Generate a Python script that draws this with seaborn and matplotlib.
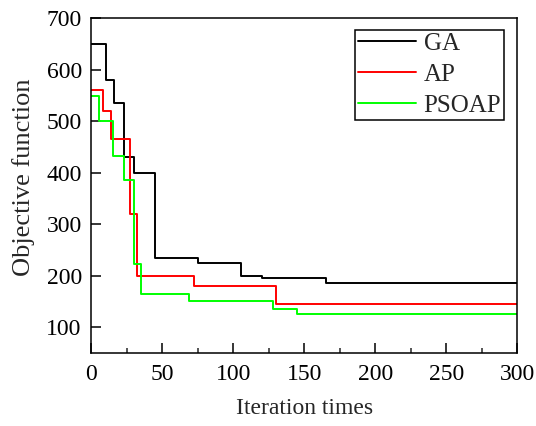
import numpy as np
import pandas as pd
import matplotlib
matplotlib.use("Agg")
import matplotlib.pyplot as plt
import seaborn as sns
from matplotlib.ticker import MultipleLocator

# step points (value holds until next x)
ga_x = [0, 10, 16, 23, 30, 45, 75, 105, 120, 165, 300]
ga_y = [650, 580, 535, 430, 400, 235, 225, 200, 195, 185, 185]
ap_x = [0, 8, 14, 27, 32, 72, 130, 300]
ap_y = [560, 520, 465, 320, 200, 180, 145, 145]
pso_x = [0, 5, 15, 23, 30, 35, 69, 128, 145, 300]
pso_y = [548, 500, 433, 385, 223, 165, 150, 135, 125, 125]

methods = ["GA", "AP", "PSOAP"]
colors = ["#000000", "#ff0000", "#00ff00"]

df = pd.concat([
    pd.DataFrame({"iter": ga_x, "obj": ga_y, "method": "GA"}),
    pd.DataFrame({"iter": ap_x, "obj": ap_y, "method": "AP"}),
    pd.DataFrame({"iter": pso_x, "obj": pso_y, "method": "PSOAP"}),
])

sns.set_style("ticks")
plt.rcParams["font.family"] = ["Liberation Serif", "DejaVu Serif"]

fig = plt.figure(figsize=(5.36, 4.26), dpi=100)
ax = fig.add_axes([0.1707, 0.1714, 0.7944, 0.7863])

sns.lineplot(data=df, x="iter", y="obj", hue="method", hue_order=methods,
             palette=colors, drawstyle="steps-post", linewidth=1.4,
             estimator=None, ax=ax)

ax.set_xlim(0, 300)
ax.set_ylim(50, 700)
ax.xaxis.set_major_locator(MultipleLocator(50))
ax.xaxis.set_minor_locator(MultipleLocator(25))
ax.set_yticks([100, 200, 300, 400, 500, 600, 700])
ax.tick_params(axis="both", which="major", direction="in", length=7, width=1.1,
               labelsize=17, colors="black")
ax.tick_params(axis="x", which="major", pad=8)
ax.tick_params(axis="y", which="major", pad=7)
ax.tick_params(axis="x", which="minor", direction="in", length=3.3, width=1.1)
ax.tick_params(axis="y", which="minor", left=False)
for s in ax.spines.values():
    s.set_visible(True)
    s.set_linewidth(1.1)
    s.set_color("black")

ax.set_xlabel("Iteration times", fontsize=17, labelpad=9)
ax.set_ylabel("Objective function", fontsize=19, labelpad=8, y=0.524)

leg = ax.legend(loc="upper right", bbox_to_anchor=(0.9695, 0.965), fontsize=18,
                frameon=True, fancybox=False, edgecolor="black", framealpha=1,
                handlelength=2.35, handletextpad=0.29, borderpad=0.12,
                labelspacing=0.34, borderaxespad=0)
leg.get_frame().set_linewidth(1.1)

fig.savefig("out.png", dpi=100)
